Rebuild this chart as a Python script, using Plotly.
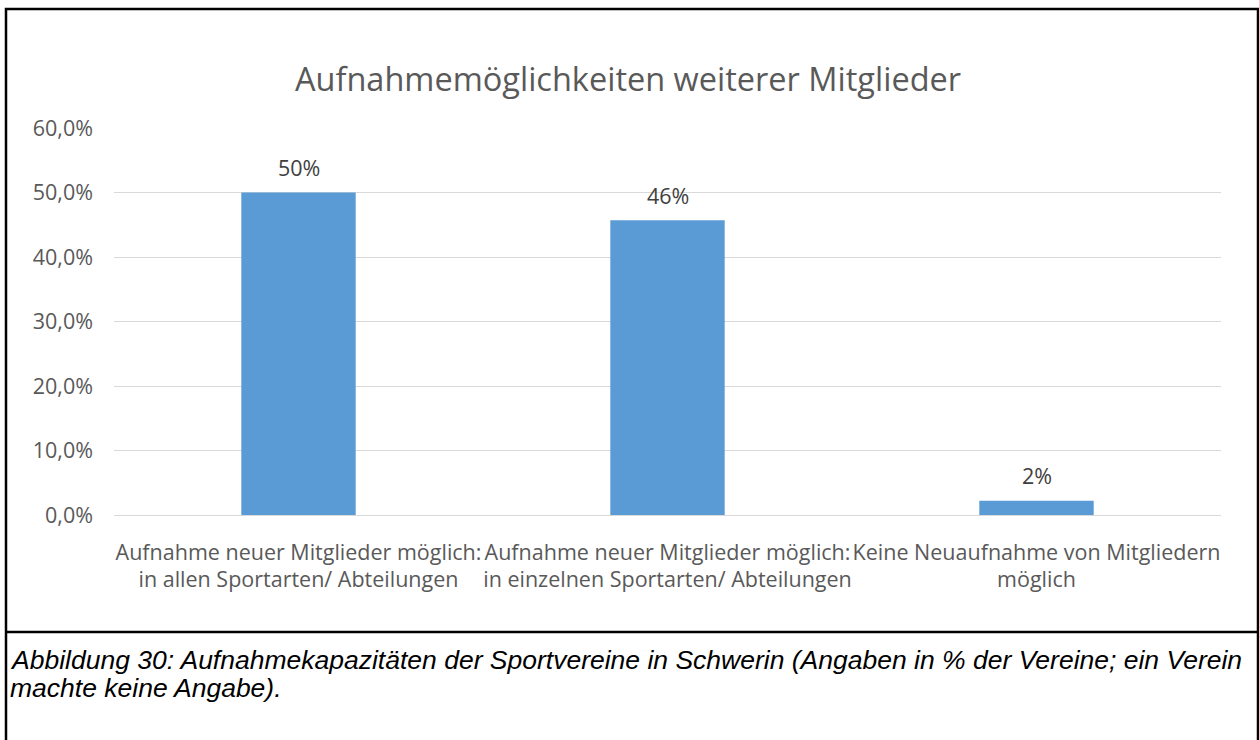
import plotly.graph_objects as go

categories = [
    "Aufnahme neuer Mitglieder möglich:<br>in allen Sportarten/ Abteilungen",
    "Aufnahme neuer Mitglieder möglich:<br>in einzelnen Sportarten/ Abteilungen",
    "Keine Neuaufnahme von Mitgliedern<br>möglich",
]
values = [0.500, 0.457, 0.022]
tick_vals = [0.0, 0.1, 0.2, 0.3, 0.4, 0.5, 0.6]

W, H = 1259, 740
L, R, T, B = 114, 1221, 128, 515  # plot area pixels


def px(x):
    return (x - L) / (R - L)


def py(y):
    return (B - y) / (B - T)


FONT = "Open Sans"
fig = go.Figure()
fig.add_trace(go.Bar(
    x=categories, y=values,
    marker=dict(color="#5b9bd5", line=dict(width=0)),
    hoverinfo="skip",
))

for c, v in zip(categories, values):
    fig.add_annotation(
        x=c, y=v, xref="x", yref="y", text=f"{v*100:.0f}%",
        showarrow=False, yshift=25,
        font=dict(family=FONT, size=21.5, color="#404040"),
    )

# title
fig.add_annotation(
    x=px(628), y=py(78), xref="paper", yref="paper",
    text="Aufnahmemöglichkeiten weiterer Mitglieder", showarrow=False,
    font=dict(family=FONT, size=32.5, color="#595959"),
    xanchor="center", yanchor="middle",
)

# caption
fig.add_annotation(
    x=px(8), y=py(660), xref="paper", yref="paper",
    text="<i>Abbildung 30: Aufnahmekapazitäten der Sportvereine in Schwerin (Angaben in % der Vereine; ein Verein</i>",
    showarrow=False, xanchor="left", yanchor="middle", align="left",
    font=dict(family="Liberation Sans", size=26.5, color="#000000"),
)
fig.add_annotation(
    x=px(8), y=py(688), xref="paper", yref="paper",
    text="<i>machte keine Angabe).</i>",
    showarrow=False, xanchor="left", yanchor="middle", align="left",
    font=dict(family="Liberation Sans", size=26.5, color="#000000"),
)

# border box and divider
fig.add_shape(type="rect", xref="paper", yref="paper",
              x0=px(6), x1=px(1258), y0=py(760), y1=py(9),
              line=dict(color="black", width=2.5), fillcolor="rgba(0,0,0,0)", layer="above")
fig.add_shape(type="line", xref="paper", yref="paper",
              x0=px(6), x1=px(1258), y0=py(632), y1=py(632),
              line=dict(color="black", width=2.5), layer="above")

fig.update_layout(
    width=W, height=H,
    margin=dict(l=L, r=W - R, t=T, b=H - B, pad=0, autoexpand=False),
    paper_bgcolor="white", plot_bgcolor="white",
    separators=",.",
    bargap=0.69,
    showlegend=False,
    xaxis=dict(
        showgrid=False, showline=False, zeroline=False, ticks="",
        tickangle=0, automargin=False,
        ticklabelstandoff=22,
        tickfont=dict(family=FONT, size=21.5, color="#595959"),
        fixedrange=True,
    ),
    yaxis=dict(
        range=[0, 0.6], tickvals=tick_vals, tickformat=".1%",
        showgrid=True, gridcolor="#d9d9d9", gridwidth=1,
        zeroline=True, zerolinecolor="#d9d9d9", zerolinewidth=1,
        showline=False, ticks="", ticklen=0, automargin=False,
        ticklabelstandoff=20,
        tickfont=dict(family=FONT, size=21.5, color="#595959"),
        fixedrange=True,
    ),
)

fig.write_html(
    "out.html",
    config=dict(displayModeBar=False),
    post_script="document.body.style.margin='0px';document.body.style.overflow='hidden';",
)
